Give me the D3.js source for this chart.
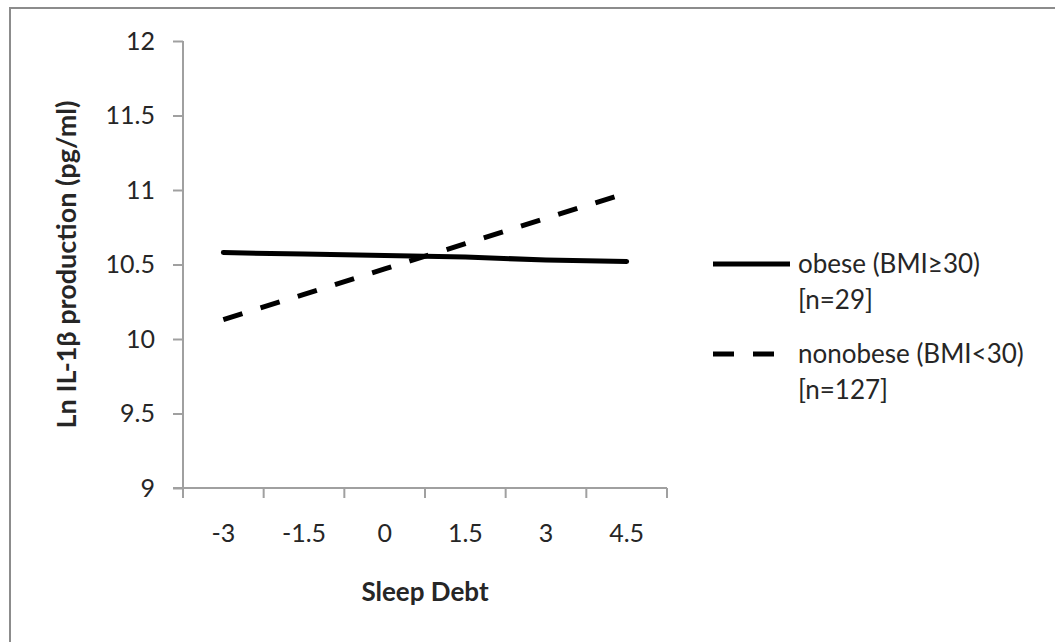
<!DOCTYPE html>
<html>
<head>
<meta charset="utf-8">
<script src="https://cdn.jsdelivr.net/npm/d3@7"></script>
<style>
  html, body { margin: 0; padding: 0; background: #fff; }
  svg { display: block; }
  text { font-family: Lato, "Open Sans", sans-serif; fill: #262626; }
</style>
</head>
<body>
<svg id="chart" width="1055" height="642"></svg>
<script>
const categories = ["-3", "-1.5", "0", "1.5", "3", "4.5"];
const obeseValues = [10.58, 10.57, 10.56, 10.55, 10.53, 10.52];
const nonobeseValues = [10.13, 10.30, 10.47, 10.64, 10.81, 10.98];
const yTicks = [9, 9.5, 10, 10.5, 11, 11.5, 12];
const seriesNames = ["obese (BMI\u226530)", "nonobese (BMI<30)"];
const seriesNotes = ["[n=29]", "[n=127]"];

const svg = d3.select("#chart");
const W = 1055, H = 642;

// outer frame
svg.append("rect").attr("x", 10).attr("y", 8).attr("width", W + 20).attr("height", H + 20)
  .attr("fill", "#fff").attr("stroke", "#8c8c8c").attr("stroke-width", 2);

const plot = { left: 183, right: 667, top: 41, bottom: 488 };

const x = d3.scaleBand().domain(categories).range([plot.left, plot.right]).paddingInner(0).paddingOuter(0);
const y = d3.scaleLinear().domain([9, 12]).range([plot.bottom, plot.top]);

const axisColor = "#a0a0a0";

// Y axis
const yAxis = svg.append("g").attr("transform", `translate(${plot.left},0)`)
  .call(d3.axisLeft(y).tickValues(yTicks).tickSize(10).tickPadding(18).tickFormat(d => String(d)));
yAxis.select(".domain").attr("stroke", axisColor).attr("stroke-width", 2).attr("d", `M0,${plot.top}V${plot.bottom}`);
yAxis.selectAll(".tick line").attr("stroke", axisColor).attr("stroke-width", 2);
yAxis.selectAll(".tick text").attr("font-size", 25).attr("font-family", "Lato").attr("fill", "#262626");

// X axis
const xAxis = svg.append("g").attr("transform", `translate(0,${plot.bottom})`)
  .call(d3.axisBottom(x).tickSize(0).tickPadding(36));
xAxis.select(".domain").attr("stroke", axisColor).attr("stroke-width", 2).attr("d", `M${plot.left - 10},0H${plot.right}`);
xAxis.selectAll(".tick text").attr("font-size", 25).attr("font-family", "Lato").attr("fill", "#262626");
// boundary ticks between categories
const bounds = categories.map(c => x(c)).concat([x(categories[categories.length - 1]) + x.bandwidth()]);
xAxis.selectAll(".bound").data(bounds).enter().append("line").attr("class", "bound")
  .attr("x1", d => d).attr("x2", d => d).attr("y1", 0).attr("y2", 10)
  .attr("stroke", axisColor).attr("stroke-width", 2);

// Axis titles
svg.append("text").attr("x", (plot.left + plot.right) / 2).attr("y", 601)
  .attr("text-anchor", "middle").attr("font-size", 26).attr("font-weight", "bold").text("Sleep Debt");
svg.append("text").attr("transform", `translate(76,${(plot.top + plot.bottom) / 2}) rotate(-90)`)
  .attr("text-anchor", "middle").attr("font-size", 27).attr("font-weight", "bold").text("Ln IL-1\u03b2 production (pg/ml)");

// Lines
const line = d3.line().x((d, i) => x(categories[i]) + x.bandwidth() / 2).y(d => y(d));
svg.append("path").datum(obeseValues).attr("d", line).attr("fill", "none")
  .attr("stroke", "#000").attr("stroke-width", 5).attr("stroke-linecap", "round");
svg.append("path").datum(nonobeseValues).attr("d", line).attr("fill", "none")
  .attr("stroke", "#000").attr("stroke-width", 5).attr("stroke-dasharray", "20,19").attr("stroke-linecap", "butt");

// Legend
const legend = svg.append("g");
const legY = [264, 354];
const dashes = [null, "21,19"];
seriesNames.forEach((name, i) => {
  legend.append("line").attr("x1", 713).attr("x2", 790).attr("y1", legY[i]).attr("y2", legY[i])
    .attr("stroke", "#000").attr("stroke-width", 5).attr("stroke-dasharray", dashes[i]);
  legend.append("text").attr("x", 798).attr("y", legY[i] + 9).attr("font-size", 26).text(name);
  legend.append("text").attr("x", 798).attr("y", legY[i] + 45).attr("font-size", 26).text(seriesNotes[i]);
});
</script>
</body>
</html>
